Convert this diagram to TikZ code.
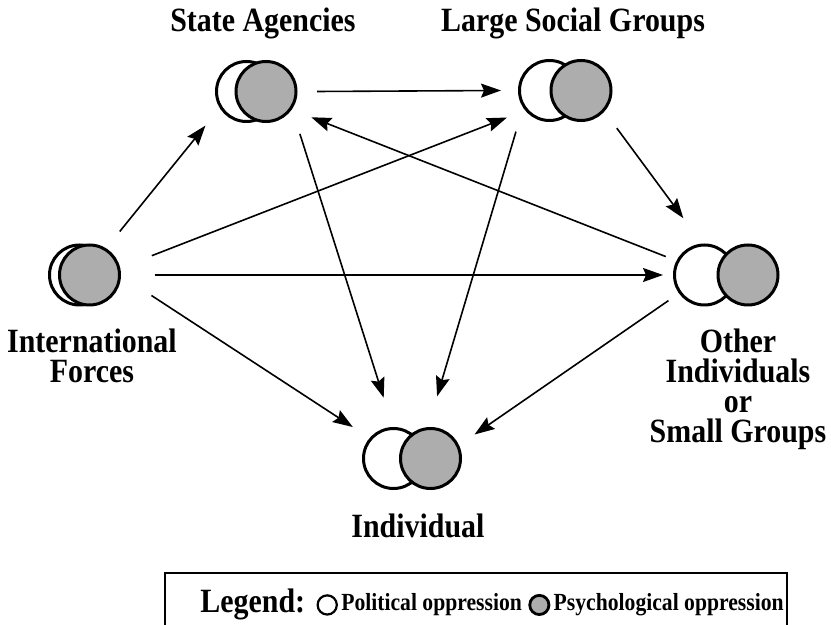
\documentclass[tikz,border=0pt]{standalone}
\usepackage{fontspec}
\setmainfont{Liberation Serif}[FakeStretch=0.88]
\usetikzlibrary{
    arrows.meta,
    positioning
}
\definecolor{PsychGray}{gray}{0.68}

\begin{document}
\begin{tikzpicture}[
    x=0.5pt,
    y=-0.5pt,
%
    hub/.style={
        circle,
        minimum size=#1,
        inner sep=0pt,
        outer sep=0pt
    },
%
    polit/.style={
        circle,
        draw=black,
        fill=white,
        line width=1.5pt,
        minimum size=30pt,
        inner sep=0pt
    },
%
    psych/.style={
        polit,
        fill=PsychGray
    },
%
    grouptext/.style={
        font=\bfseries\fontsize{17}{15}\selectfont,
        align=center,
        inner sep=0pt
    },
%
    arrow/.style={
        -{Stealth[length=10pt,width=7pt,inset=1.5pt]},
        line width=0.8pt
    },
%
    legendbox/.style={
        draw=black,
        line width=0.6pt,
        minimum width=311pt,
        minimum height=27pt,
        inner sep=0pt
    },
%
    legcirc/.style={
        circle,
        draw=black,
        line width=1.1pt,
        minimum size=9.6pt,
        inner sep=0pt
    },
%
    legtext/.style={
        font=\bfseries\fontsize{12.3}{13}\selectfont,
        inner sep=0pt
    }
]
\useasboundingbox (0,0) rectangle (831,625);
%
% Groups
%
\node[hub=70pt] (intl) at (84.5,275) {};
\node[hub=61pt] (state) at (256,91.5) {};
\node[hub=64pt] (large) at (565,90.5) {};
\node[hub=63pt] (other) at (726,275) {};
\node[hub=67pt] (indiv) at (412,458.5) {};
%
\node[polit] (intlPol) at (79.5,275) {};
\node[psych] (intlPsy) at (89.5,275) {};
%
\node[polit] (statePol) at (246.5,91.5) {};
\node[psych] (statePsy) at (266,91.5) {};
%
\node[polit] (largePol) at (549.5,90.5) {};
\node[psych] (largePsy) at (581,90.5) {};
%
\node[polit] (otherPol) at (704.5,275) {};
\node[psych] (otherPsy) at (748,275) {};
%
\node[polit] (indivPol) at (393.5,458.5) {};
\node[psych] (indivPsy) at (430.5,458.5) {};
%
% Group names
%
\node[grouptext, anchor=base] (stateText) at (263,32) {State Agencies};
\node[grouptext, anchor=base] (largeText) at (573,32) {Large Social Groups};
\node[grouptext, anchor=north] (intlText) at (92,329) {
    International\\
    Forces
};
\node[grouptext, anchor=north] (otherText) at (738,329) {
    Other\\
    Individuals\\
    or\\
    Small Groups
};
\node[grouptext, anchor=base] (indivText) at (418,538) {Individual};
%
% Influences
%
\draw[arrow, shorten <=-7pt] (intl.51) -- (state.214);
\draw[arrow] (intl.16) -- (large.205);
\draw[arrow] (intl.0) -- (other.180);
\draw[arrow] (intl.-17) -- (indiv.152);
\draw[arrow] (state.0) -- (large.180);
\draw[arrow] (state.-44) -- (indiv.115);
\draw[arrow] (large.220) -- (indiv.68);
\draw[arrow, shorten >=4pt] (large.-36) -- (other.127);
\draw[arrow] (other.163) -- (state.-25);
\draw[arrow] (other.204) -- (indiv.21);
%
% Legend
%
\node[legendbox] (legend) at (476,600) {};
\node[grouptext, anchor=base west] (legTitle) at (200,613) {Legend:};
\node[legcirc, fill=white, right=5.5pt of legTitle] (legPol) {};
\node[legtext, right=1.5pt of legPol] (legPolText) {Political oppression};
\node[legcirc, fill=PsychGray, line width=1.4pt, right=3pt of legPolText] (legPsy) {};
\node[legtext, right=1.5pt of legPsy] (legPsyText) {Psychological oppression};
%
\end{tikzpicture}
\end{document}
